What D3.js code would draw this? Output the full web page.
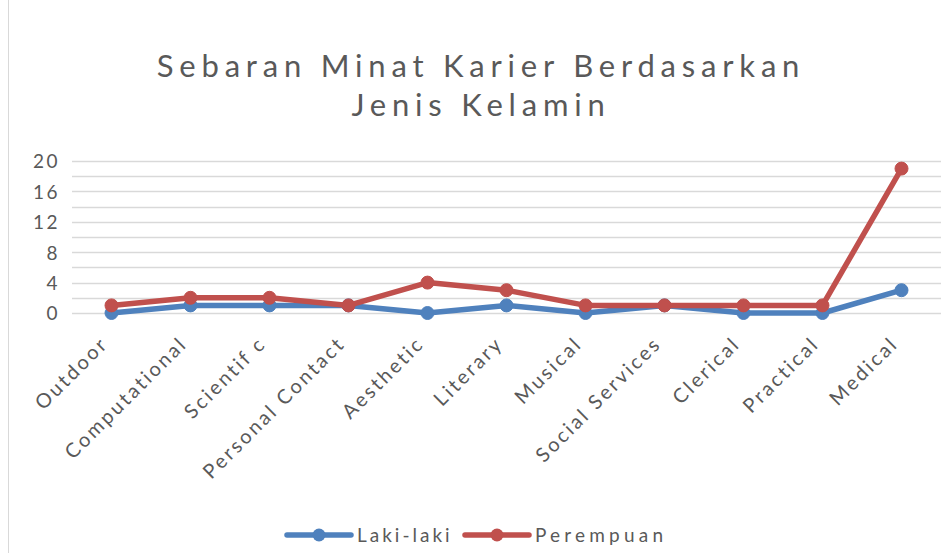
<!DOCTYPE html>
<html><head><meta charset="utf-8">
<script src="https://cdn.jsdelivr.net/npm/d3@7"></script>
<style>body{margin:0;background:#fff}svg{display:block}</style>
</head><body>
<svg id="c" width="946" height="553"></svg>
<script>
const categories = ["Outdoor","Computational","Scientif c","Personal Contact","Aesthetic","Literary","Musical","Social Services","Clerical","Practical","Medical"];
const lakiLaki = [0,1,1,1,0,1,0,1,0,0,3];
const perempuan = [1,2,2,1,4,3,1,1,1,1,19];
const seriesNames = ["Laki-laki","Perempuan"];
const seriesColors = ["#4f81bd","#c0504d"];
const yTicks = [0,4,8,12,16,20];
const titleLines = ["Sebaran Minat Karier Berdasarkan","Jenis Kelamin"];

const svg = d3.select("#c");
const font = "Lato, 'Open Sans', sans-serif";
const m = {left:72, right:941, top:161, bottom:313};

svg.append("line").attr("x1",8.5).attr("x2",8.5).attr("y1",0).attr("y2",553)
  .attr("stroke","#d9d9d9").attr("stroke-width",1);

const x = d3.scaleBand().domain(categories).range([m.left,m.right]);
const y = d3.scaleLinear().domain([0,20]).range([m.bottom,m.top]);

// gridlines every 2
const g = svg.append("g");
g.selectAll("line").data(d3.range(0,21,2)).join("line")
  .attr("x1",m.left).attr("x2",m.right)
  .attr("y1",d=>Math.round(y(d))+0.5).attr("y2",d=>Math.round(y(d))+0.5)
  .attr("stroke","#d9d9d9").attr("stroke-width",1.5);

// y axis labels
const yAxis = d3.axisLeft(y).tickValues(yTicks).tickSize(0).tickPadding(12);
const ya = svg.append("g").attr("transform",`translate(${m.left},0)`).call(yAxis);
ya.select(".domain").remove();
ya.selectAll("text").attr("font-family",font).attr("font-size",19).attr("fill","#595959")
  .attr("letter-spacing","2.5px").attr("dy","0.36em");

// x labels
const xAxis = d3.axisBottom(x).tickSize(0).tickPadding(0);
const xa = svg.append("g").attr("transform",`translate(0,${m.bottom})`).call(xAxis);
xa.select(".domain").remove();
xa.selectAll("text").attr("font-family",font).attr("font-size",20).attr("fill","#595959")
  .attr("letter-spacing","2.6px")
  .attr("text-anchor","end").attr("dy","0.35em")
  .attr("transform","translate(-7,27) rotate(-45)");

// lines
const series = [lakiLaki, perempuan];
const line = d3.line().x((d,i)=>x(categories[i])+x.bandwidth()/2).y(d=>y(d));
series.forEach((s,k)=>{
  svg.append("path").datum(s).attr("d",line).attr("fill","none")
    .attr("stroke",seriesColors[k]).attr("stroke-width",5.5).attr("stroke-linejoin","round").attr("stroke-linecap","round");
  svg.append("g").selectAll("circle").data(s).join("circle")
    .attr("cx",(d,i)=>x(categories[i])+x.bandwidth()/2).attr("cy",d=>y(d)).attr("r",6.5)
    .attr("fill",seriesColors[k]).attr("stroke",seriesColors[k]).attr("stroke-width",1);
});

// title
svg.append("text").attr("x",481).attr("text-anchor","middle")
  .attr("font-family",font).attr("font-size",31).attr("fill","#595959").attr("letter-spacing","5.8px")
  .selectAll("tspan").data(titleLines).join("tspan")
  .attr("x",481).attr("y",(d,i)=>77+i*39).text(d=>d);

// legend
const legX = [285,463];
seriesNames.forEach((n,k)=>{
  const lg = svg.append("g").attr("transform",`translate(${legX[k]},535)`);
  lg.append("line").attr("x1",2).attr("x2",66).attr("stroke",seriesColors[k]).attr("stroke-width",5.5).attr("stroke-linecap","round");
  lg.append("circle").attr("cx",34).attr("r",6.5).attr("fill",seriesColors[k]);
  lg.append("text").attr("x",72).attr("dy","0.35em").attr("font-family",font).attr("font-size",19)
    .attr("fill","#595959").attr("letter-spacing",k===0?"3px":"4.2px").text(n);
});
</script>
</body></html>
